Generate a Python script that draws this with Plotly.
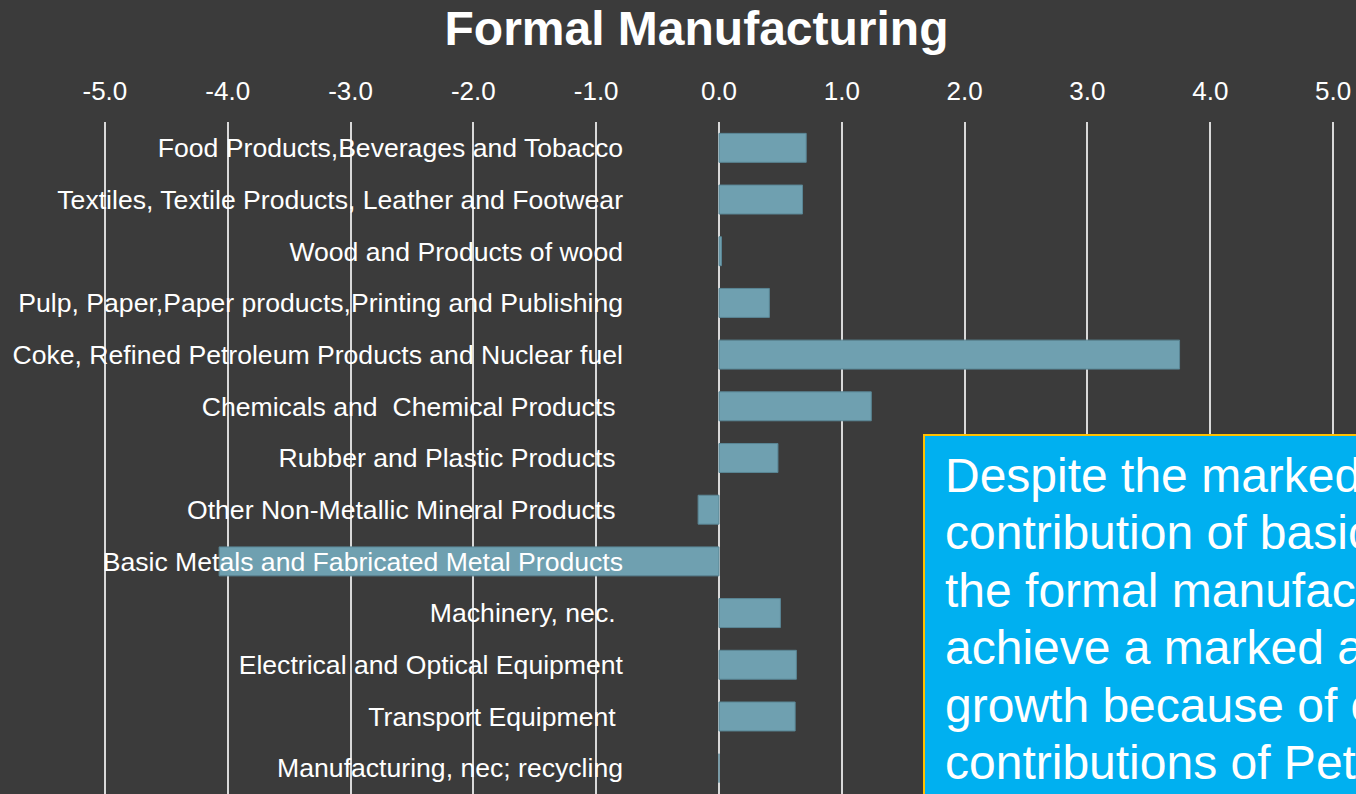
import plotly.graph_objects as go

# Sector contributions to formal manufacturing growth (percentage points)
categories = [
    "Food Products,Beverages and Tobacco",
    "Textiles, Textile Products, Leather and Footwear",
    "Wood and Products of wood",
    "Pulp, Paper,Paper products,Printing and Publishing",
    "Coke, Refined Petroleum Products and Nuclear fuel",
    "Chemicals and \u00a0Chemical Products\u00a0",
    "Rubber and Plastic Products\u00a0",
    "Other Non-Metallic Mineral Products\u00a0",
    "Basic Metals and Fabricated Metal Products",
    "Machinery, nec.\u00a0",
    "Electrical and Optical Equipment",
    "Transport Equipment\u00a0",
    "Manufacturing, nec; recycling",
]
values = [0.71, 0.68, 0.02, 0.41, 3.75, 1.24, 0.48, -0.17, -4.07, 0.50, 0.63, 0.62, 0.0]

x_ticks = [-5, -4, -3, -2, -1, 0, 1, 2, 3, 4, 5]
x_tick_labels = ["-5.0", "-4.0", "-3.0", "-2.0", "-1.0", "0.0", "1.0", "2.0", "3.0", "4.0", "5.0"]

note_lines = [
    "Despite the marked",
    "contribution of basic",
    "the formal manufact",
    "achieve a marked a",
    "growth because of o",
    "contributions of Petroleum",
]

W, H = 1356, 794
M_L, M_R, M_T, M_B = 100, 18, 122, 0
BG = "#3b3b3b"
FONT = "Liberation Sans, Arial, sans-serif"


def px_x(p):
    return (p - M_L) / (W - M_L - M_R)


def px_y(p):
    return (H - M_B - p) / (H - M_T - M_B)


fig = go.Figure(
    go.Bar(
        x=values,
        y=categories,
        orientation="h",
        width=0.56,
        marker=dict(color="#6fa0b0", line=dict(color="#5a8695", width=1)),
    )
)

# Call-out box
fig.add_shape(
    type="rect",
    xref="paper", yref="paper",
    x0=px_x(924), x1=px_x(1400),
    y0=px_y(435), y1=px_y(830),
    fillcolor="#00b0f0",
    line=dict(color="#ffc000", width=2),
    layer="above",
)
for i, line in enumerate(note_lines):
    fig.add_annotation(
        xref="paper", yref="paper",
        x=px_x(943), y=px_y(475 + 57.5 * i),
        xanchor="left", yanchor="middle",
        text=line, showarrow=False,
        font=dict(family=FONT, size=48, color="white"),
    )

fig.update_layout(
    width=W, height=H,
    margin=dict(l=M_L, r=M_R, t=M_T, b=M_B, pad=0),
    paper_bgcolor=BG, plot_bgcolor=BG,
    showlegend=False,
    font=dict(family=FONT, color="white", size=26),
    title=dict(
        text="<b>Formal Manufacturing</b>",
        font=dict(family=FONT, size=48, color="white"),
        x=696.5 / W, xref="container", xanchor="center",
        y=1 - 28 / H, yref="container", yanchor="middle",
    ),
    xaxis=dict(
        side="top",
        range=[-5.04, 5.04],
        tickvals=x_ticks, ticktext=x_tick_labels,
        showgrid=True, gridcolor="#d9d9d9", gridwidth=1.5,
        zeroline=True, zerolinecolor="#d9d9d9", zerolinewidth=1.5,
        showline=False, ticks="", ticklabelstandoff=16,
        tickfont=dict(family=FONT, size=26, color="white"),
        fixedrange=True,
    ),
    yaxis=dict(
        type="category",
        autorange="reversed",
        anchor="free", position=0.5,
        showgrid=False, zeroline=False, showline=False,
        ticks="", ticklabelstandoff=96,
        tickfont=dict(family=FONT, size=26.6, color="white"),
        fixedrange=True,
    ),
)

fig.write_html("out.html")
